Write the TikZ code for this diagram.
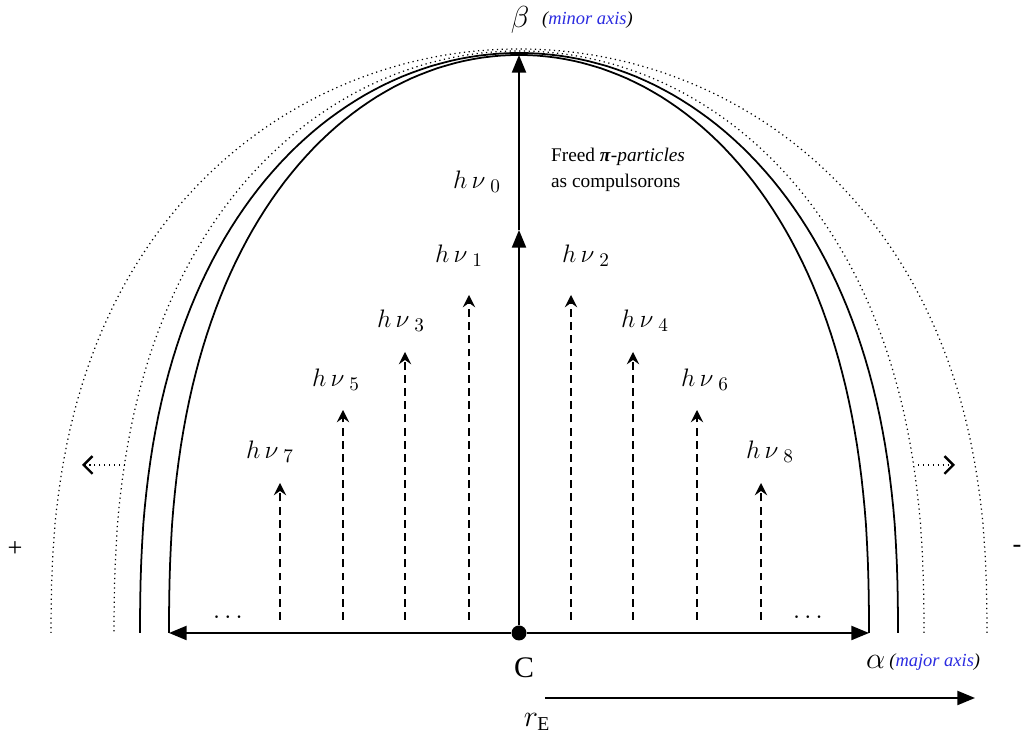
\documentclass[tikz,border=0pt]{standalone}
\usepackage{fontspec}
\setmainfont{Liberation Serif}
\usetikzlibrary{positioning, arrows.meta}
\definecolor{axisblue}{HTML}{2B2BE0}

\begin{document}
\begin{tikzpicture}[
    x=0.02cm, y=0.02cm,
    every node/.style={inner sep=1pt},
    shell/.style={line width=1pt},
    halo/.style={line width=0.7pt, dotted},
    axis/.style={line width=1pt, -{Triangle[length=10pt,width=8pt]}},
    photon/.style={line width=1pt, dash pattern=on 4.5pt off 3pt,
                   -{Stealth[length=7pt,width=7pt,inset=2.5pt]}},
    drift/.style={line width=0.8pt, dotted,
                  -{Straight Barb[length=5pt,width=10pt,line width=1.4pt]}},
    nu/.style={font=\fontsize{15}{17}\selectfont},
    note/.style={font=\fontsize{10.5}{12}\selectfont\itshape, text=axisblue},
  ]
  \useasboundingbox (0,0) rectangle (1022,736);

  % shells
  \draw[halo]  plot[domain=0:180, samples=121]
    ({519+468*cos(\x)}, {103+584*pow(max(abs(sin(\x)),0.00001),0.833)});
  \draw[halo]  plot[domain=0:180, samples=121]
    ({519+405*cos(\x)}, {103+582*pow(max(abs(sin(\x)),0.00001),0.833)});
  \draw[shell] plot[domain=0:180, samples=121]
    ({519+379*cos(\x)}, {103+580*pow(max(abs(sin(\x)),0.00001),0.833)});
  \draw[shell] plot[domain=0:180, samples=121]
    ({519+350*cos(\x)}, {103+578*pow(max(abs(sin(\x)),0.00001),0.833)});

  % centre and axes
  \node[circle, fill, inner sep=0pt, minimum size=0.3cm] (C) at (519,103) {};
  \coordinate (west) at (169,103);
  \coordinate (east) at (869,103);
  \coordinate (mid)  at (519,506);
  \coordinate (top)  at (519,681);
  \draw[axis] (C) -- (west);
  \draw[axis] (C) -- (east);
  \draw[axis] (C) -- (mid);
  \draw[axis] (mid) -- (top);

  % photons
  \coordinate (b1) at (469,116); \coordinate (t1) at (469,441);
  \coordinate (b2) at (571,116); \coordinate (t2) at (571,441);
  \coordinate (b3) at (405,116); \coordinate (t3) at (405,384);
  \coordinate (b4) at (633,116); \coordinate (t4) at (633,384);
  \coordinate (b5) at (343,116); \coordinate (t5) at (343,326);
  \coordinate (b6) at (697,116); \coordinate (t6) at (697,326);
  \coordinate (b7) at (280,116); \coordinate (t7) at (280,253);
  \coordinate (b8) at (761,116); \coordinate (t8) at (761,253);
  \draw[photon] (b1) -- (t1);
  \draw[photon] (b2) -- (t2);
  \draw[photon] (b3) -- (t3);
  \draw[photon] (b4) -- (t4);
  \draw[photon] (b5) -- (t5);
  \draw[photon] (b6) -- (t6);
  \draw[photon] (b7) -- (t7);
  \draw[photon] (b8) -- (t8);

  \node[nu] (nu0) at (477,554) {$h\,\nu_{\,\,0}$};
  \node[nu] (nu1) at (459,480) {$h\,\nu_{\,\,1}$};
  \node[nu] (nu2) at (586,480) {$h\,\nu_{\,\,2}$};
  \node[nu] (nu3) at (401,415) {$h\,\nu_{\,\,3}$};
  \node[nu] (nu4) at (645,415) {$h\,\nu_{\,\,4}$};
  \node[nu] (nu5) at (336,356) {$h\,\nu_{\,\,5}$};
  \node[nu] (nu6) at (705,356) {$h\,\nu_{\,\,6}$};
  \node[nu] (nu7) at (270,284) {$h\,\nu_{\,\,7}$};
  \node[nu] (nu8) at (770,284) {$h\,\nu_{\,\,8}$};

  \node[nu] (dotsL) at (228,118) {$\cdots$};
  \node[nu] (dotsR) at (808,118) {$\cdots$};

  % expansion
  \coordinate (l0) at (125,271); \coordinate (l1) at (82,271);
  \coordinate (r0) at (918,271); \coordinate (r1) at (955,271);
  \draw[drift] (l0) -- (l1);
  \draw[drift] (r0) -- (r1);

  % labels
  \node[font=\fontsize{19}{21}\selectfont] (beta) at (520,716) {$\beta$};
  \node[note, anchor=west] (minor) at (540,716) {\textcolor{black}{(}minor axis\textcolor{black}{)}};
  \node[font=\fontsize{11}{15}\selectfont, align=left, anchor=west] (freed) at (549,566)
    {Freed \textbf{\textit{π}}\textit{-particles}\\as compulsorons};
  \node[font=\fontsize{17}{19}\selectfont] (cl) at (524,68) {C};
  \node[font=\fontsize{18}{20}\selectfont, anchor=west] (alpha) at (864,74) {$\alpha$};
  \node[note, anchor=west] (major) at (alpha.east) {\textcolor{black}{(}major axis\textcolor{black}{)}};
  \node[font=\fontsize{15}{17}\selectfont] (plus) at (15,187) {+};
  \node[font=\fontsize{15}{17}\selectfont] (minus) at (1017,187) {-};

  % radius
  \coordinate (r2) at (545,38);
  \coordinate (r3) at (975,38);
  \draw[axis] (r2) -- (r3);
  \node[font=\fontsize{16}{18}\selectfont] (rE) at (537,14) {$r_{\mathrm{E}}$};
\end{tikzpicture}
\end{document}
